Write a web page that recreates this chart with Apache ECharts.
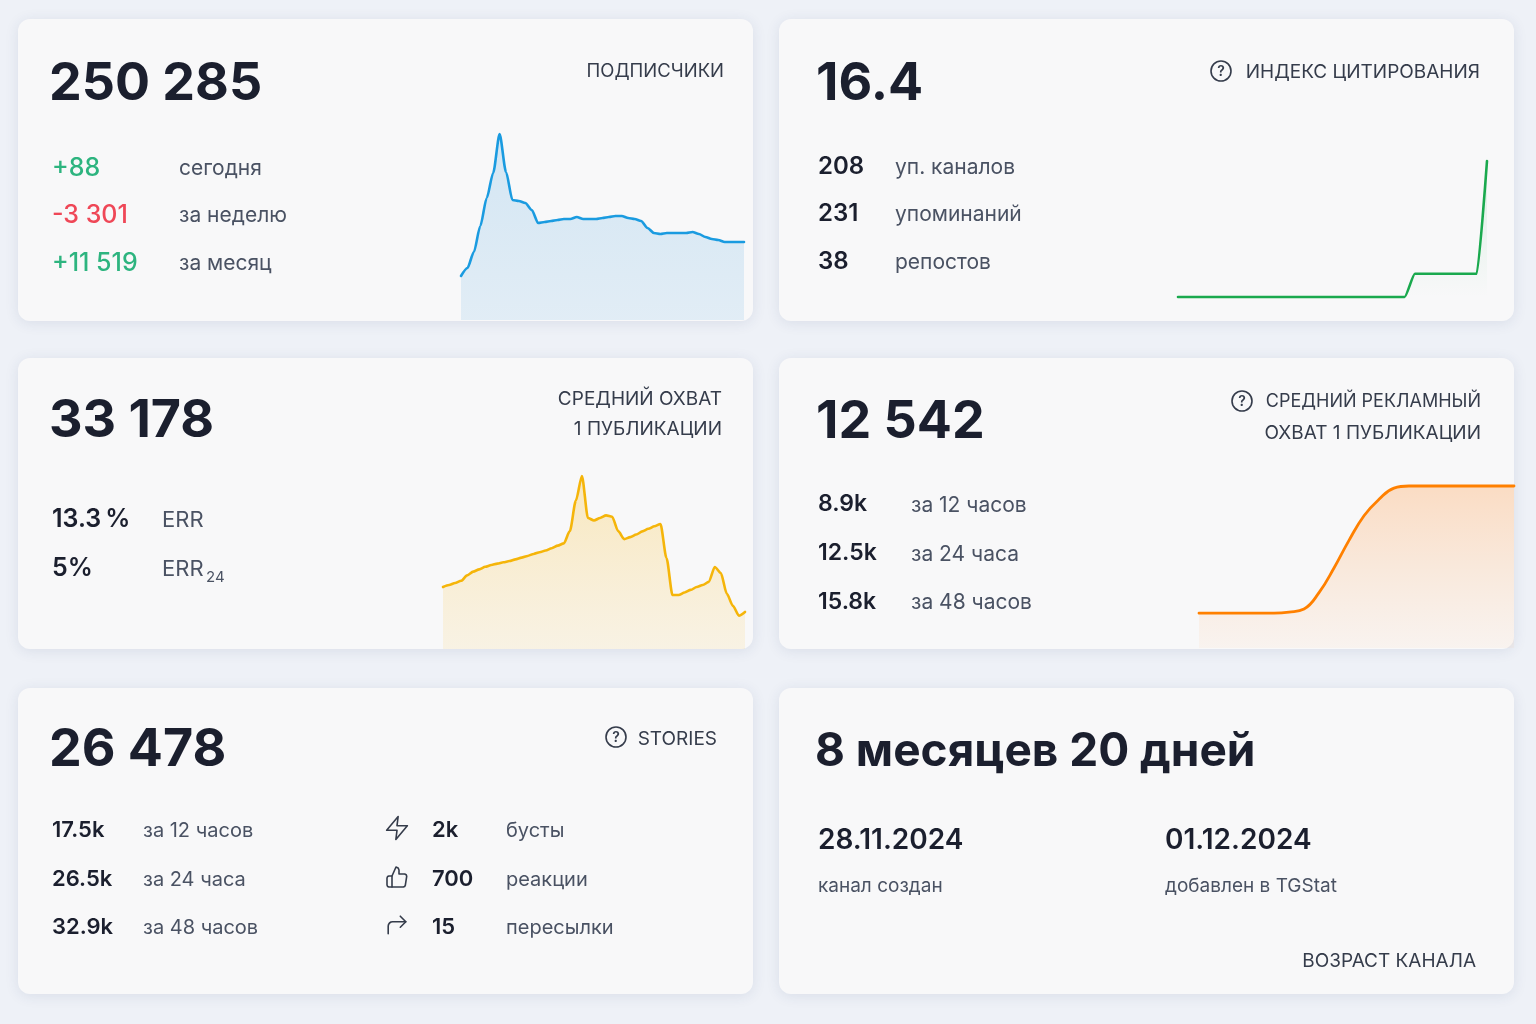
<!DOCTYPE html>
<html>
<head>
<meta charset="utf-8">
<script src="https://cdn.jsdelivr.net/npm/echarts@6/dist/echarts.min.js"></script>
<style>
  html, body { margin: 0; padding: 0; background: #eef1f7; }
  #main { width: 1536px; height: 1024px; }
</style>
</head>
<body>
<div id="main"></div>
<script>
// subscribers, thousands
var subscribers = [246.9, 247.7, 249.3, 251.9, 254.7, 257.2, 261.1, 257.3, 254.5, 254.4,
  254.2, 253.5, 252.2, 252.3, 252.4, 252.5, 252.6, 252.6, 252.8, 252.6,
  252.6, 252.6, 252.7, 252.8, 252.9, 252.9, 252.7, 252.6, 252.4, 251.7,
  251.2, 251.1, 251.2, 251.2, 251.2, 251.2, 251.3, 251.1, 250.8, 250.6,
  250.5, 250.3, 250.3, 250.3, 250.3];
// citation index
var citation = [1.2, 1.2, 1.2, 1.2, 1.2, 1.2, 1.2, 1.2, 1.2, 1.2,
  1.2, 1.2, 1.2, 1.2, 1.2, 1.2, 1.2, 1.2, 1.2, 1.2,
  1.2, 1.2, 1.2, 3.8, 3.8, 3.8, 3.8, 3.8, 3.8, 3.8, 16.4];
// average reach per post, thousands
var reach = [21.7, 22.4, 23.1, 23.9, 25.8, 27.1, 27.9, 28.8, 29.4, 29.9,
  30.4, 30.8, 31.4, 32.0, 32.6, 33.3, 33.9, 34.5, 35.3, 36.2,
  37.0, 41.3, 52.0, 60.6, 45.9, 45.0, 45.9, 46.8, 46.3, 41.3,
  38.5, 39.2, 40.1, 41.2, 42.1, 43.0, 43.8, 31.9, 18.9, 18.9,
  19.8, 20.7, 21.7, 22.4, 23.5, 28.7, 26.6, 19.3, 15.1, 11.7, 13.0];
// ad reach growth, thousands
var adReach = [3.4, 3.4, 3.4, 3.4, 3.4, 3.4, 3.5, 3.8, 5.4, 7.8,
  10.5, 12.9, 14.5, 15.6, 15.8, 15.8, 15.8, 15.8, 15.8, 15.8, 15.8, 15.8];

var FONT = 'Inter, "Noto Sans", sans-serif';
var DARK = '#1b1f2e', LABEL = '#4a5263', HEAD = '#353c4b';
var GREEN = '#2db47f', RED = '#ef4757';

function txt(x, y, text, size, weight, color, align) {
  return {
    type: 'text', x: x, y: y, z: 10,
    style: {
      text: text, fill: color || DARK, fontSize: size, fontWeight: weight || 400,
      fontFamily: FONT, textAlign: align || 'left', textVerticalAlign: 'middle'
    }
  };
}
function card(x, y, w, h) {
  return {
    type: 'rect', x: x, y: y, z: 0, shape: { width: w, height: h, r: 12 },
    style: { fill: '#f8f8f9', shadowBlur: 14, shadowColor: 'rgba(40,60,110,0.10)', shadowOffsetY: 2 }
  };
}
function help(x, y) {
  return [
    { type: 'circle', z: 10, shape: { cx: x, cy: y, r: 10 }, style: { fill: 'none', stroke: HEAD, lineWidth: 1.6 } },
    txt(x, y + 1, '?', 14, 600, HEAD, 'center')
  ];
}
// icon outline drawn from a 24x24 glyph, centred at cx, cy
function icon(pts, cx, cy, s) {
  return {
    type: 'polyline', z: 10,
    shape: { points: pts.map(function (p) { return [cx + (p[0] - 12) * s, cy + (p[1] - 12) * s]; }) },
    style: { fill: 'none', stroke: HEAD, lineWidth: 1.6, lineJoin: 'round', lineCap: 'round' }
  };
}
function grad(a, b) {
  return { type: 'linear', x: 0, y: 0, x2: 0, y2: 1, colorStops: [{ offset: 0, color: a }, { offset: 1, color: b }] };
}

var ZAP = [[13, 2], [3, 14], [12, 14], [11, 22], [21, 10], [12, 10], [13, 2]];
var THUMB = [[14, 9], [14, 5], [13.1, 2.9], [11, 2], [7, 11], [7, 22], [18.3, 22], [19.6, 21.5],
  [20.3, 20.3], [21.7, 11.3], [21.2, 9.7], [19.7, 9], [14, 9]];
var CUFF = [[7, 22], [4, 22], [2.6, 21.4], [2, 20], [2, 13], [2.6, 11.6], [4, 11], [7, 11]];
var HEAD_ARROW = [[15, 14], [20, 9], [15, 4]];
var SHAFT = [[4, 20], [4, 13], [4.3, 11.5], [5.2, 10.2], [6.5, 9.3], [8, 9], [20, 9]];

var graphics = [
  card(18, 19, 735, 302), card(779, 19, 735, 302),
  card(18, 358, 735, 291), card(779, 358, 735, 291),
  card(18, 688, 735, 306), card(779, 688, 735, 306),

  txt(49, 84, '250 285', 52, 700),
  txt(724, 71, 'ПОДПИСЧИКИ', 18.5, 400, HEAD, 'right'),
  txt(52, 168, '+88', 25, 500, GREEN), txt(179, 169, 'сегодня', 21, 400, LABEL),
  txt(52, 215, '-3 301', 25, 500, RED), txt(179, 216, 'за неделю', 21, 400, LABEL),
  txt(52, 263, '+11 519', 25, 500, GREEN), txt(179, 264, 'за месяц', 21, 400, LABEL),

  txt(816, 84, '16.4', 52, 700),
  txt(1480, 72, 'ИНДЕКС ЦИТИРОВАНИЯ', 19, 400, HEAD, 'right'),
  txt(818, 167, '208', 24, 600), txt(895, 168, 'уп. каналов', 21, 400, LABEL),
  txt(818, 214, '231', 24, 600), txt(895, 215, 'упоминаний', 21, 400, LABEL),
  txt(818, 262, '38', 24, 600), txt(895, 263, 'репостов', 21, 400, LABEL),

  txt(49, 421, '33 178', 52, 700),
  txt(722, 399, 'СРЕДНИЙ ОХВАТ', 19, 400, HEAD, 'right'),
  txt(722, 429, '1 ПУБЛИКАЦИИ', 19, 400, HEAD, 'right'),
  txt(52, 519, '13.3\u2009%', 25, 600), txt(162, 520, 'ERR', 22, 400, LABEL),
  txt(52, 568, '5%', 25, 600), txt(162, 569, 'ERR', 22, 400, LABEL), txt(206, 577, '24', 15, 400, LABEL),

  txt(816, 422, '12 542', 52, 700),
  txt(1481, 402, 'СРЕДНИЙ РЕКЛАМНЫЙ', 18, 400, HEAD, 'right'),
  txt(1481, 433, 'ОХВАТ 1 ПУБЛИКАЦИИ', 19, 400, HEAD, 'right'),
  txt(818, 504, '8.9k', 23, 600), txt(911, 506, 'за 12 часов', 21, 400, LABEL),
  txt(818, 553, '12.5k', 23, 600), txt(911, 555, 'за 24 часа', 21, 400, LABEL),
  txt(818, 602, '15.8k', 23, 600), txt(911, 603, 'за 48 часов', 21, 400, LABEL),

  txt(49, 750, '26 478', 52, 700),
  txt(717, 739, 'STORIES', 19, 400, HEAD, 'right'),
  txt(52, 830, '17.5k', 22, 600), txt(143, 831, 'за 12 часов', 20, 400, LABEL),
  txt(52, 879, '26.5k', 22, 600), txt(143, 880, 'за 24 часа', 20, 400, LABEL),
  txt(52, 927, '32.9k', 22, 600), txt(143, 928, 'за 48 часов', 20, 400, LABEL),
  icon(ZAP, 397, 828, 1.15), icon(THUMB, 397, 877, 1.0), icon(CUFF, 397, 877, 1.0),
  icon(HEAD_ARROW, 397, 925, 1.1), icon(SHAFT, 397, 925, 1.1),
  txt(432, 830, '2k', 22, 600), txt(506, 831, 'бусты', 20, 400, LABEL),
  txt(432, 879, '700', 22, 600), txt(506, 880, 'реакции', 20, 400, LABEL),
  txt(432, 927, '15', 22, 600), txt(506, 928, 'пересылки', 20, 400, LABEL),

  txt(815, 752, '8 месяцев 20 дней', 46, 700),
  txt(818, 841, '28.11.2024', 28, 600), txt(818, 886, 'канал создан', 19, 400, LABEL),
  txt(1165, 841, '01.12.2024', 28, 600), txt(1165, 886, 'добавлен в TGStat', 19, 400, LABEL),
  txt(1476, 961, 'ВОЗРАСТ КАНАЛА', 19, 400, HEAD, 'right')
].concat(help(1221, 71), help(1242, 401), help(616, 737));

var grids = [
  { left: 461, top: 134, width: 283, height: 186 },
  { left: 1178, top: 161, width: 309, height: 136 },
  { left: 443, top: 476, width: 302, height: 173 },
  { left: 1199, top: 486, width: 315, height: 162 }
];
var xAxes = grids.map(function (g, i) {
  return { type: 'category', gridIndex: i, boundaryGap: false, show: false };
});
var yAxes = [
  { type: 'value', gridIndex: 0, show: false, min: 242.5, max: 261.1 },
  { type: 'value', gridIndex: 1, show: false, min: 1.2, max: 16.4 },
  { type: 'value', gridIndex: 2, show: false, min: 0, max: 60.6 },
  { type: 'value', gridIndex: 3, show: false, min: 0, max: 15.8 }
];

function spark(i, data, color, lw, smooth, fill, mono) {
  return {
    type: 'line', xAxisIndex: i, yAxisIndex: i, data: data, clip: false,
    showSymbol: false, smooth: smooth, smoothMonotone: mono, silent: true,
    lineStyle: { color: color, width: lw, cap: 'round', join: 'round' },
    areaStyle: { color: fill, origin: 'start' }, z: 5
  };
}

var chart = echarts.init(document.getElementById('main'), null, { renderer: 'canvas' });
chart.setOption({
  backgroundColor: '#eef1f7',
  animation: false,
  graphic: { elements: graphics },
  grid: grids,
  xAxis: xAxes,
  yAxis: yAxes,
  series: [
    spark(0, subscribers, '#1a9be0', 2.6, 0.25, grad('rgba(30,140,215,0.24)', 'rgba(30,140,215,0.15)'), 'x'),
    spark(1, citation, '#1aa94e', 2.6, 0.2, grad('rgba(30,170,80,0.18)', 'rgba(30,170,80,0.0)'), 'x'),
    spark(2, reach, '#f5b50a', 2.6, 0.25, grad('rgba(250,190,40,0.40)', 'rgba(250,200,80,0.18)'), 'x'),
    spark(3, adReach, '#ff8000', 2.8, 0.45, grad('rgba(255,160,80,0.45)', 'rgba(255,175,110,0.10)'), null)
  ]
});
</script>
</body>
</html>
